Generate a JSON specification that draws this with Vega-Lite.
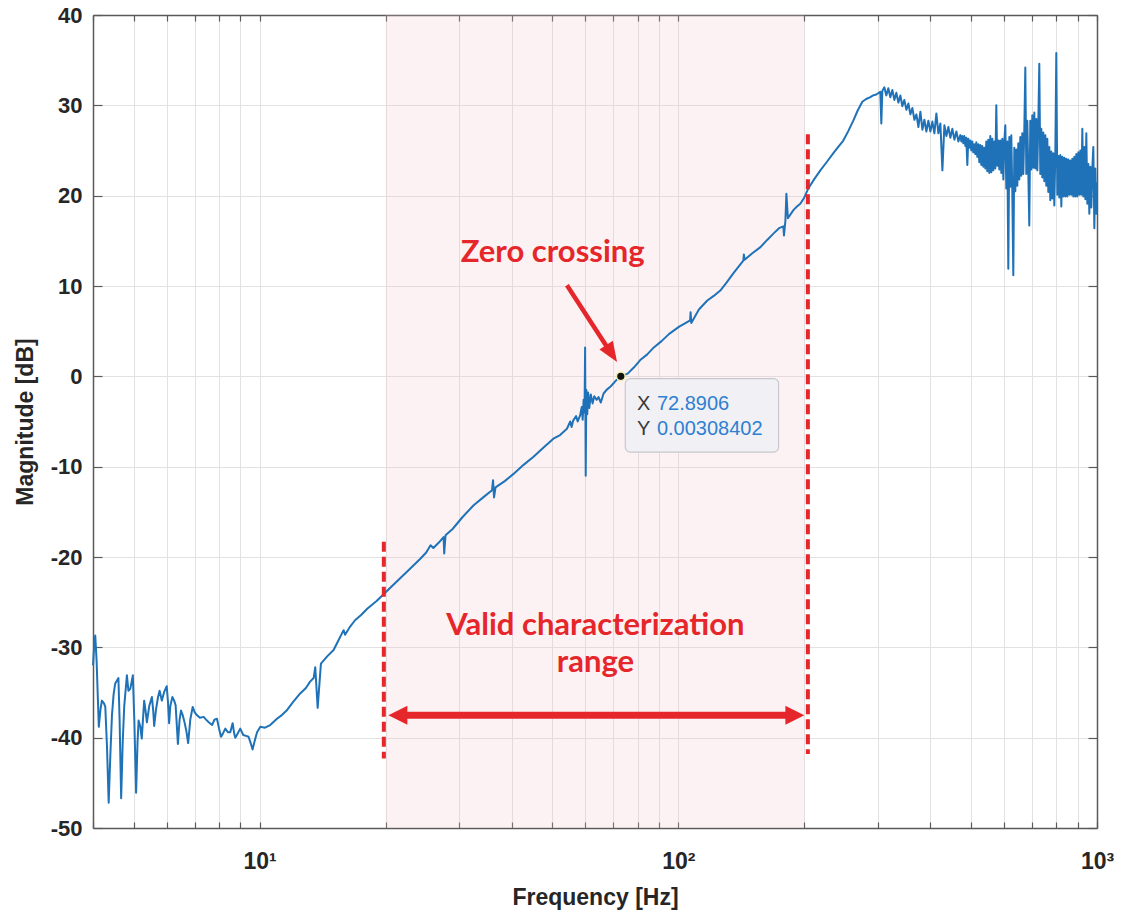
{
  "$schema": "https://vega.github.io/schema/vega-lite/v6.json",
  "width": 1004,
  "height": 813,
  "autosize": {"type": "none"},
  "padding": {"left": 93, "top": 15, "right": 30, "bottom": 88},
  "background": "white",
  "config": {"view": {"stroke": null}},
  "resolve": {"axis": {"x": "independent", "y": "independent"}},
  "datasets": {
    "band": [{"f1": 20, "f2": 200}],
    "mag": [
      {"f":4.00,"db":-32.0},{"f":4.03,"db":-29.5},{"f":4.05,"db":-28.7},{"f":4.08,"db":-31.5},{"f":4.13,"db":-38.8},{"f":4.17,"db":-36.8},{"f":4.20,"db":-35.9},{"f":4.25,"db":-36.2},{"f":4.28,"db":-36.6},{"f":4.32,"db":-41.0},{"f":4.36,"db":-47.2},{"f":4.40,"db":-42.0},{"f":4.44,"db":-37.5},{"f":4.48,"db":-35.2},{"f":4.52,"db":-34.0},{"f":4.60,"db":-33.4},{"f":4.63,"db":-38.0},{"f":4.67,"db":-46.7},{"f":4.71,"db":-40.5},{"f":4.75,"db":-36.5},{"f":4.82,"db":-33.1},{"f":4.86,"db":-34.8},{"f":4.91,"db":-34.6},{"f":4.98,"db":-33.1},{"f":5.02,"db":-38.0},{"f":5.07,"db":-46.1},{"f":5.11,"db":-40.5},{"f":5.14,"db":-38.1},{"f":5.19,"db":-38.8},{"f":5.23,"db":-40.1},{"f":5.30,"db":-35.9},{"f":5.34,"db":-37.0},{"f":5.38,"db":-38.3},{"f":5.45,"db":-36.5},{"f":5.53,"db":-35.5},{"f":5.57,"db":-37.0},{"f":5.60,"db":-38.7},{"f":5.66,"db":-36.8},{"f":5.72,"db":-35.5},{"f":5.77,"db":-34.8},{"f":5.84,"db":-35.9},{"f":5.92,"db":-34.9},{"f":6.00,"db":-34.3},{"f":6.04,"db":-36.0},{"f":6.08,"db":-38.4},{"f":6.12,"db":-36.5},{"f":6.19,"db":-35.5},{"f":6.25,"db":-35.9},{"f":6.30,"db":-36.4},{"f":6.34,"db":-38.5},{"f":6.38,"db":-40.7},{"f":6.44,"db":-38.0},{"f":6.49,"db":-37.0},{"f":6.55,"db":-37.5},{"f":6.61,"db":-38.2},{"f":6.68,"db":-39.2},{"f":6.75,"db":-40.6},{"f":6.83,"db":-38.0},{"f":6.92,"db":-36.6},{"f":7.00,"db":-37.2},{"f":7.08,"db":-37.5},{"f":7.20,"db":-37.8},{"f":7.35,"db":-37.7},{"f":7.45,"db":-38.0},{"f":7.56,"db":-38.3},{"f":7.70,"db":-38.6},{"f":7.80,"db":-38.0},{"f":7.91,"db":-37.9},{"f":8.00,"db":-39.0},{"f":8.09,"db":-39.9},{"f":8.18,"db":-39.5},{"f":8.28,"db":-39.0},{"f":8.40,"db":-39.4},{"f":8.51,"db":-39.4},{"f":8.62,"db":-38.4},{"f":8.70,"db":-39.6},{"f":8.75,"db":-40.0},{"f":8.87,"db":-39.5},{"f":8.99,"db":-39.0},{"f":9.14,"db":-39.7},{"f":9.28,"db":-39.8},{"f":9.41,"db":-39.9},{"f":9.52,"db":-40.6},{"f":9.62,"db":-41.3},{"f":9.74,"db":-40.3},{"f":9.86,"db":-39.4},{"f":10.04,"db":-38.8},{"f":10.3,"db":-38.9},{"f":10.6,"db":-38.6},{"f":11.0,"db":-37.9},{"f":11.3,"db":-37.5},{"f":11.6,"db":-37.0},{"f":12.0,"db":-36.1},{"f":12.5,"db":-35.1},{"f":12.9,"db":-34.5},{"f":13.2,"db":-33.8},{"f":13.46,"db":-33.4},{"f":13.58,"db":-32.2},{"f":13.76,"db":-36.7},{"f":14.01,"db":-31.8},{"f":14.5,"db":-31.0},{"f":15.02,"db":-30.3},{"f":15.4,"db":-29.3},{"f":15.87,"db":-28.1},{"f":16.0,"db":-28.6},{"f":16.4,"db":-27.8},{"f":16.9,"db":-27.0},{"f":17.5,"db":-26.4},{"f":18.1,"db":-25.7},{"f":19.0,"db":-24.9},{"f":19.8,"db":-24.1},
      {"f":21.6,"db":-22.4},{"f":23.0,"db":-21.2},{"f":24.2,"db":-20.2},{"f":25.0,"db":-19.5},{"f":25.6,"db":-18.7},{"f":26.0,"db":-19.0},{"f":26.8,"db":-18.4},{"f":27.5,"db":-17.8},{"f":27.6,"db":-19.6},{"f":27.8,"db":-17.6},{"f":28.9,"db":-16.9},{"f":30.5,"db":-15.6},{"f":32.4,"db":-14.3},{"f":34.2,"db":-13.4},{"f":35.9,"db":-12.6},{"f":36.1,"db":-11.5},{"f":36.3,"db":-13.4},{"f":36.6,"db":-12.3},{"f":38.5,"db":-11.6},{"f":40.4,"db":-10.8},{"f":42.7,"db":-9.8},{"f":45.1,"db":-8.9},{"f":47.6,"db":-7.9},{"f":50.3,"db":-6.9},{"f":52.2,"db":-6.5},{"f":54.2,"db":-5.8},{"f":55.2,"db":-5.0},{"f":55.6,"db":-5.6},{"f":56.1,"db":-4.9},{"f":57.0,"db":-4.4},{"f":57.5,"db":-5.0},{"f":58.3,"db":-4.3},{"f":58.8,"db":-3.4},{"f":59.1,"db":-4.8},{"f":59.4,"db":-2.6},{"f":59.7,"db":-4.0},{"f":59.9,"db":3.2},{"f":60.1,"db":-11.0},{"f":60.3,"db":-1.5},{"f":60.6,"db":-4.2},{"f":60.9,"db":-1.8},{"f":61.3,"db":-3.5},{"f":61.8,"db":-2.0},{"f":62.4,"db":-3.0},{"f":63.0,"db":-2.2},{"f":63.8,"db":-2.6},{"f":64.5,"db":-2.3},{"f":65.3,"db":-2.9},{"f":66.3,"db":-1.9},{"f":67.4,"db":-1.5},{"f":69.0,"db":-1.1},{"f":71.2,"db":-0.4},{"f":72.89,"db":0.0},{"f":75.7,"db":0.3},{"f":78.4,"db":1.0},{"f":81.1,"db":1.8},{"f":84.2,"db":2.4},{"f":87.4,"db":3.2},{"f":91.2,"db":3.9},{"f":95.1,"db":4.7},{"f":100.5,"db":5.5},{"f":104.0,"db":5.9},{"f":106.7,"db":6.2},{"f":107.0,"db":7.1},{"f":107.4,"db":5.9},{"f":112,"db":7.4},{"f":117.3,"db":8.4},{"f":121.5,"db":8.9},{"f":126.0,"db":9.5},{"f":130.5,"db":10.4},{"f":135.3,"db":11.4},{"f":139,"db":12.1},{"f":143.0,"db":12.8},{"f":143.4,"db":13.5},{"f":144,"db":12.9},{"f":150,"db":13.6},{"f":157.1,"db":14.3},{"f":163,"db":15.1},{"f":168.7,"db":15.8},{"f":174,"db":16.4},{"f":178.2,"db":16.6},{"f":178.8,"db":15.6},{"f":180.2,"db":17.2},{"f":181.2,"db":20.2},{"f":182.7,"db":17.5},{"f":188.3,"db":18.4},{"f":192,"db":18.8},{"f":195.6,"db":19.1},{"f":200,"db":19.8},{"f":204.4,"db":20.8},{"f":211,"db":21.8},{"f":218.4,"db":22.8},{"f":226,"db":23.7},{"f":234.6,"db":24.7},{"f":241,"db":25.4},{"f":247.8,"db":26.1},{"f":255,"db":27.2},{"f":261.8,"db":28.3},{"f":268,"db":29.4},{"f":275.1,"db":30.4},{"f":281,"db":30.7},{"f":287.5,"db":30.9},{"f":292,"db":31.1},{"f":297.1,"db":31.2},{"f":303.7,"db":31.5},{"f":305.4,"db":28.0},{"f":307.1,"db":31.6},
      {"f":310.5,"db":32.0},{"f":313.9,"db":31.1},{"f":317.4,"db":31.9},{"f":320.9,"db":30.9},{"f":324.5,"db":31.7},{"f":328.1,"db":30.6},{"f":331.7,"db":31.4},{"f":335.4,"db":30.3},{"f":339.1,"db":31.1},{"f":342.8,"db":29.9},{"f":346.6,"db":30.6},{"f":350.5,"db":29.5},{"f":354.4,"db":30.2},{"f":358.3,"db":29.0},{"f":362.3,"db":29.7},{"f":366.3,"db":28.4},{"f":370.4,"db":29.0},{"f":374.5,"db":27.6},{"f":378.6,"db":29.3},{"f":382.8,"db":27.3},{"f":387.0,"db":28.4},{"f":391.3,"db":27.1},{"f":395.6,"db":28.3},{"f":400.0,"db":27.1},{"f":404.4,"db":28.2},{"f":408.9,"db":26.9},{"f":413.4,"db":29.1},{"f":418.0,"db":26.9},{"f":422.6,"db":28.0},{"f":427.3,"db":22.8},{"f":432.0,"db":27.8},{"f":436.8,"db":26.6},{"f":441.6,"db":27.6},{"f":446.5,"db":26.4},{"f":451.4,"db":27.4},{"f":456.4,"db":26.2},{"f":461.5,"db":27.1},{"f":466.6,"db":26.0},
      {"f":471.6,"db":26.7},{"f":474.2,"db":26.0},{"f":476.8,"db":26.6},{"f":479.5,"db":25.8},{"f":482.1,"db":26.6},{"f":484.8,"db":25.5},{"f":487.4,"db":26.4},{"f":490.1,"db":23.4},{"f":492.8,"db":26.3},{"f":495.5,"db":25.3},{"f":498.2,"db":26.1},{"f":501.0,"db":25.0},{"f":503.7,"db":26.0},{"f":506.5,"db":24.8},{"f":509.3,"db":25.7},{"f":512.1,"db":24.6},{"f":514.9,"db":25.9},{"f":517.8,"db":24.3},{"f":520.6,"db":25.7},{"f":523.5,"db":23.7},{"f":526.4,"db":25.6},{"f":529.3,"db":23.4},{"f":532.2,"db":25.5},{"f":535.2,"db":23.2},{"f":538.1,"db":25.3},{"f":541.1,"db":23.0},{"f":544.0,"db":26.0},{"f":547.0,"db":22.7},{"f":550.0,"db":26.2},{"f":553.1,"db":22.5},{"f":556.1,"db":26.6},{"f":559.2,"db":22.6},{"f":562.3,"db":26.3},{"f":565.4,"db":22.8},{"f":568.5,"db":26.0},{"f":571.6,"db":23.0},{"f":574.8,"db":30.0},{"f":578.0,"db":23.3},{"f":581.1,"db":26.1},{"f":584.4,"db":22.9},{"f":587.6,"db":26.1},{"f":590.8,"db":22.5},{"f":594.1,"db":26.3},{"f":597.4,"db":21.8},{"f":600.6,"db":26.0},{"f":604.0,"db":27.8},{"f":607.3,"db":20.8},{"f":610.6,"db":26.0},{"f":614.0,"db":11.9},{"f":617.4,"db":26.5},{"f":620.8,"db":21.0},{"f":624.2,"db":26.7},{"f":627.6,"db":20.5},{"f":631.1,"db":11.2},{"f":634.6,"db":25.3},{"f":638.1,"db":20.5},{"f":641.6,"db":25.1},{"f":645.2,"db":21.1},{"f":648.7,"db":25.8},{"f":652.3,"db":21.8},{"f":655.9,"db":26.5},{"f":659.5,"db":22.2},{"f":663.1,"db":26.9},{"f":666.8,"db":22.4},{"f":670.5,"db":27.4},{"f":674.2,"db":34.2},{"f":677.9,"db":22.4},{"f":681.6,"db":28.3},{"f":685.4,"db":22.6},{"f":689.1,"db":16.7},{"f":692.9,"db":28.3},{"f":696.8,"db":22.9},{"f":700.6,"db":28.9},{"f":704.5,"db":23.1},{"f":708.4,"db":29.2},{"f":712.3,"db":23.0},{"f":716.2,"db":28.5},{"f":720.2,"db":22.8},{"f":724.1,"db":28.0},{"f":728.1,"db":34.6},{"f":732.1,"db":22.4},{"f":736.2,"db":27.4},{"f":740.2,"db":22.0},{"f":744.3,"db":27.0},{"f":748.4,"db":21.6},{"f":752.6,"db":26.7},{"f":756.7,"db":21.1},{"f":760.9,"db":26.3},{"f":765.1,"db":20.4},{"f":769.3,"db":25.4},{"f":773.5,"db":19.5},{"f":777.8,"db":24.9},{"f":782.1,"db":19.7},{"f":786.4,"db":24.7},{"f":790.7,"db":18.9},{"f":795.1,"db":24.4},{"f":799.5,"db":35.8},{"f":803.9,"db":20.1},{"f":808.3,"db":24.4},{"f":812.8,"db":19.8},{"f":817.3,"db":24.5},{"f":821.8,"db":18.8},{"f":826.3,"db":24.3},{"f":830.9,"db":19.9},{"f":835.5,"db":24.2},{"f":840.1,"db":19.9},{"f":844.7,"db":24.1},{"f":849.4,"db":19.9},{"f":854.1,"db":24.0},{"f":858.8,"db":20.1},{"f":863.5,"db":23.9},{"f":868.3,"db":20.1},{"f":873.1,"db":24.1},{"f":877.9,"db":19.9},{"f":882.7,"db":24.3},{"f":887.6,"db":19.9},{"f":892.5,"db":24.6},{"f":897.4,"db":19.9},{"f":902.4,"db":24.8},{"f":907.4,"db":20.1},{"f":912.4,"db":25.0},{"f":917.4,"db":20.1},{"f":922.5,"db":27.4},{"f":927.6,"db":19.9},{"f":932.7,"db":25.4},{"f":937.9,"db":19.6},{"f":943.0,"db":26.9},{"f":948.2,"db":19.1},{"f":953.4,"db":23.5},{"f":958.7,"db":18.0},{"f":964.0,"db":23.2},{"f":969.3,"db":18.7},{"f":974.6,"db":23.0},{"f":980.0,"db":25.4},{"f":985.4,"db":16.4},{"f":990.9,"db":23.0},{"f":996.3,"db":18.0},{"f":1000,"db":21.5}
    ],
    "dashes": [{"f": 19.8, "top": -18.3, "bot": -42.3}, {"f": 203.9, "top": 26.8, "bot": -41.8}],
    "zeroShaft": [{"f": 54.2, "db": 10.08, "f2": 68.8, "db2": 2.7}],
    "zeroHead": [{"f": 71.4, "db": 1.59}],
    "rangeShaft": [{"f": 21.4, "db": -37.53, "f2": 189.3}],
    "rangeLeft": [{"f": 20.3, "db": -37.53}],
    "rangeRight": [{"f": 200, "db": -37.53}],
    "tipBox": [{"f": 74.7, "f2": 173.6, "db": -0.25, "db2": -8.38}],
    "tipText": [
      {"f": 79.7, "db": -3.76, "label": "X", "kind": "key"},
      {"f": 88.9, "db": -3.76, "label": "72.8906", "kind": "val"},
      {"f": 79.7, "db": -6.52, "label": "Y", "kind": "key"},
      {"f": 88.9, "db": -6.52, "label": "0.00308402", "kind": "val"}
    ],
    "dot": [{"f": 72.89, "db": 0.003}],
    "notes": [
      {"f": 50.1, "db": 12.62, "label": "Zero crossing"},
      {"f": 63.4, "db": -28.67, "label": "Valid characterization"},
      {"f": 63.4, "db": -32.73, "label": "range"}
    ]
  },
  "layer": [
    {
      "data": {"name": "band"},
      "mark": {"type": "rect", "fill": "#f4c6c9", "opacity": 0.22},
      "encoding": {
        "x": {"field": "f1", "type": "quantitative",
          "scale": {"type": "log", "domain": [4, 1000], "nice": false},
          "axis": {"orient": "top", "values": [4,5,6,7,8,9,10,20,30,40,50,60,70,80,90,100,200,300,400,500,600,700,800,900,1000],
            "labels": false, "grid": false, "title": null, "tickSize": -6, "tickColor": "#5a5a5a", "tickWidth": 1.2,
            "domainColor": "#5a5a5a", "domainWidth": 1.5}},
        "x2": {"field": "f2"},
        "y": {"datum": 40, "type": "quantitative",
          "scale": {"domain": [-50, 40], "nice": false, "zero": false},
          "axis": {"orient": "right", "values": [-50,-40,-30,-20,-10,0,10,20,30,40],
            "labels": false, "grid": false, "title": null, "tickSize": -9, "tickColor": "#5a5a5a", "tickWidth": 1.2,
            "domainColor": "#5a5a5a", "domainWidth": 1.5}},
        "y2": {"datum": -50}
      }
    },
    {
      "data": {"name": "mag"},
      "mark": {"type": "line", "color": "#1f72b8", "strokeWidth": 2, "strokeJoin": "round"},
      "encoding": {
        "x": {"field": "f", "type": "quantitative",
          "scale": {"type": "log", "domain": [4, 1000], "nice": false},
          "axis": {"orient": "bottom", "values": [4,5,6,7,8,9,10,20,30,40,50,60,70,80,90,100,200,300,400,500,600,700,800,900,1000],
            "labelExpr": "datum.value == 10 ? '10\u00b9' : datum.value == 100 ? '10\u00b2' : datum.value == 1000 ? '10\u00b3' : ''",
            "labelOverlap": false, "labelFlush": false,
            "labelFont": "Liberation Sans", "labelFontWeight": "bold", "labelFontSize": 23, "labelColor": "#262626", "labelPadding": 28,
            "tickSize": -6, "tickColor": "#5a5a5a", "tickWidth": 1.2,
            "domainColor": "#5a5a5a", "domainWidth": 1.5,
            "grid": true, "gridColor": "#e2e2e2", "gridWidth": 1,
            "title": "Frequency [Hz]", "titleFont": "Liberation Sans", "titleFontWeight": "bold", "titleFontSize": 23, "titleColor": "#262626", "titlePadding": 13}},
        "y": {"field": "db", "type": "quantitative",
          "scale": {"domain": [-50, 40], "nice": false, "zero": false},
          "axis": {"orient": "left", "values": [-50,-40,-30,-20,-10,0,10,20,30,40],
            "labelExpr": "datum.value + ''",
            "labelFont": "Liberation Sans", "labelFontWeight": "bold", "labelFontSize": 22, "labelColor": "#262626", "labelPadding": 20,
            "tickSize": -9, "tickColor": "#5a5a5a", "tickWidth": 1.2,
            "domainColor": "#5a5a5a", "domainWidth": 1.5,
            "grid": true, "gridColor": "#e2e2e2", "gridWidth": 1,
            "title": "Magnitude [dB]", "titleFont": "Liberation Sans", "titleFontWeight": "bold", "titleFontSize": 23, "titleColor": "#262626", "titlePadding": 13}}
      }
    },
    {
      "data": {"name": "dashes"},
      "mark": {"type": "rule", "color": "#e5262a", "strokeWidth": 4, "strokeDash": [10, 5]},
      "encoding": {
        "x": {"field": "f", "type": "quantitative", "axis": null},
        "y": {"field": "top", "type": "quantitative", "axis": null},
        "y2": {"field": "bot"}
      }
    },
    {
      "data": {"name": "zeroShaft"},
      "mark": {"type": "rule", "color": "#e5262a", "strokeWidth": 4.5},
      "encoding": {
        "x": {"field": "f", "type": "quantitative", "axis": null},
        "y": {"field": "db", "type": "quantitative", "axis": null},
        "x2": {"field": "f2"},
        "y2": {"field": "db2"}
      }
    },
    {
      "data": {"name": "zeroHead"},
      "mark": {"type": "point", "shape": "M0,0L-0.4,-1L0.4,-1Z", "filled": true, "color": "#e5262a", "opacity": 1, "size": 1600, "angle": 326.9},
      "encoding": {
        "x": {"field": "f", "type": "quantitative", "axis": null},
        "y": {"field": "db", "type": "quantitative", "axis": null}
      }
    },
    {
      "data": {"name": "rangeShaft"},
      "mark": {"type": "rule", "color": "#e5262a", "strokeWidth": 7},
      "encoding": {
        "x": {"field": "f", "type": "quantitative", "axis": null},
        "x2": {"field": "f2"},
        "y": {"field": "db", "type": "quantitative", "axis": null}
      }
    },
    {
      "data": {"name": "rangeLeft"},
      "mark": {"type": "point", "shape": "M0,0L1,-0.5L1,0.5Z", "filled": true, "color": "#e5262a", "opacity": 1, "size": 1444},
      "encoding": {
        "x": {"field": "f", "type": "quantitative", "axis": null},
        "y": {"field": "db", "type": "quantitative", "axis": null}
      }
    },
    {
      "data": {"name": "rangeRight"},
      "mark": {"type": "point", "shape": "M0,0L-1,-0.5L-1,0.5Z", "filled": true, "color": "#e5262a", "opacity": 1, "size": 1444},
      "encoding": {
        "x": {"field": "f", "type": "quantitative", "axis": null},
        "y": {"field": "db", "type": "quantitative", "axis": null}
      }
    },
    {
      "data": {"name": "tipBox"},
      "mark": {"type": "rect", "fill": "#f1f1f5", "stroke": "#c8c8cc", "strokeWidth": 1.2, "cornerRadius": 5},
      "encoding": {
        "x": {"field": "f", "type": "quantitative", "axis": null},
        "x2": {"field": "f2"},
        "y": {"field": "db", "type": "quantitative", "axis": null},
        "y2": {"field": "db2"}
      }
    },
    {
      "data": {"name": "tipText"},
      "mark": {"type": "text", "align": "left", "baseline": "alphabetic", "font": "Liberation Sans", "fontSize": 20},
      "encoding": {
        "x": {"field": "f", "type": "quantitative", "axis": null},
        "y": {"field": "db", "type": "quantitative", "axis": null},
        "text": {"field": "label"},
        "color": {"field": "kind", "type": "nominal", "scale": {"domain": ["key", "val"], "range": ["#3a3a3a", "#2f80d0"]}, "legend": null}
      }
    },
    {
      "data": {"name": "dot"},
      "mark": {"type": "point", "shape": "circle", "filled": true, "fill": "#111111", "stroke": "#f2ecb0", "strokeWidth": 1.5, "opacity": 1, "size": 75},
      "encoding": {
        "x": {"field": "f", "type": "quantitative", "axis": null},
        "y": {"field": "db", "type": "quantitative", "axis": null}
      }
    },
    {
      "data": {"name": "notes"},
      "mark": {"type": "text", "align": "center", "baseline": "alphabetic", "font": "Lato", "fontWeight": "bold", "fontSize": 31, "color": "#e5262a"},
      "encoding": {
        "x": {"field": "f", "type": "quantitative", "axis": null},
        "y": {"field": "db", "type": "quantitative", "axis": null},
        "text": {"field": "label"}
      }
    }
  ]
}
